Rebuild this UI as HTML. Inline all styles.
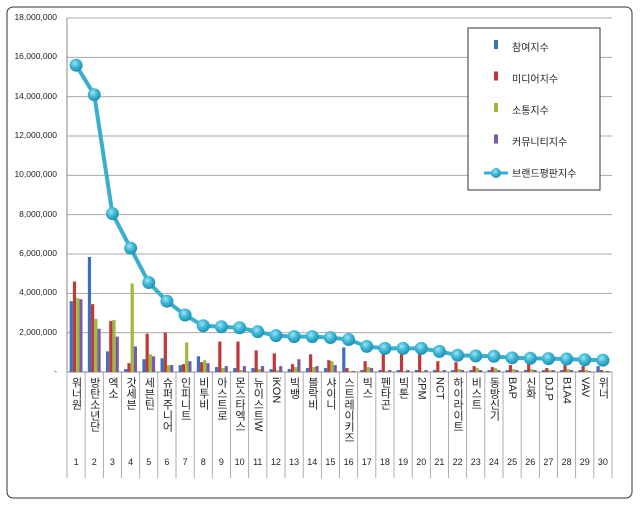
<!DOCTYPE html>
<html><head><meta charset="utf-8"><style>
body{margin:0;background:#fff;font-family:"Liberation Sans","Noto Sans CJK KR",sans-serif;}
#wrap{position:relative;width:640px;height:506px;}
.xl{position:absolute;top:377px;writing-mode:vertical-rl;font-size:11px;color:#222;line-height:12px;white-space:nowrap;}
.xn{position:absolute;top:457px;font-size:9px;color:#222;text-align:center;width:18px;}
.yl{position:absolute;right:583px;font-size:8.5px;color:#222;}
</style></head><body>
<div id="wrap">
<svg id="svg" width="640" height="506" style="position:absolute;left:0;top:0">
<rect x="7" y="7" width="625" height="491" rx="6" fill="#fff" stroke="#333" stroke-width="1"/>
</svg>
</div>
<script>
const categories=["워너원","방탄소년단","엑소","갓세븐","세븐틴","슈퍼주니어","인피니트","비투비","아스트로","몬스타엑스","뉴이스트W","iKON","빅뱅","블락비","샤이니","스트레이키즈","빅스","펜타곤","빅톤","2PM","NCT","하이라이트","비스트","동방신기","BAP","신화","DJ.P","B1A4","VAV","위너"];
const participation=[3.6,5.85,1.05,0.15,0.65,0.7,0.35,0.8,0.25,0.2,0.2,0.15,0.15,0.2,0.2,1.25,0.1,0.1,0.1,0.1,0.1,0.1,0.1,0.1,0.1,0.1,0.1,0.1,0.1,0.3];
const media=[4.6,3.45,2.6,0.45,1.95,2.0,0.4,0.5,1.55,1.55,1.1,0.95,0.4,0.9,0.6,0.2,0.55,0.95,0.95,0.9,0.55,0.5,0.3,0.25,0.35,0.4,0.2,0.35,0.3,0.1];
const communication=[3.75,2.7,2.65,4.5,0.9,0.35,1.5,0.6,0.2,0.1,0.15,0.1,0.25,0.25,0.55,0.05,0.25,0.05,0.05,0.05,0.05,0.15,0.2,0.2,0.15,0.15,0.1,0.15,0.1,0.05];
const community=[3.7,2.2,1.8,1.3,0.8,0.35,0.55,0.45,0.3,0.3,0.3,0.3,0.65,0.3,0.35,0.05,0.2,0.1,0.1,0.1,0.1,0.1,0.1,0.1,0.1,0.1,0.1,0.1,0.05,0.05];
const brand=[15.6,14.1,8.05,6.3,4.55,3.6,2.9,2.35,2.3,2.25,2.05,1.85,1.8,1.8,1.75,1.65,1.3,1.2,1.2,1.2,1.05,0.85,0.82,0.8,0.72,0.7,0.68,0.66,0.62,0.6];
const yTicks=["-","2,000,000","4,000,000","6,000,000","8,000,000","10,000,000","12,000,000","14,000,000","16,000,000","18,000,000"];
const legendLabels=["참여지수","미디어지수","소통지수","커뮤니티지수","브랜드평판지수"];
const X0=67,X1=612,Y0=372,Y1=18,YMAX=18;
const cw=(X1-X0)/categories.length;
const ys=v=>Y0-(v/YMAX)*(Y0-Y1);
const xc=i=>X0+cw*(i+0.5);
const svg=document.getElementById('svg'),wrap=document.getElementById('wrap');
const NS="http://www.w3.org/2000/svg";
function mk(t,a,p){const e=document.createElementNS(NS,t);for(const k in a)e.setAttribute(k,a[k]);(p||svg).appendChild(e);return e;}
const defs=mk('defs',{});
defs.innerHTML='<radialGradient id="dot" cx="40%" cy="35%" r="65%"><stop offset="0" stop-color="#9fe4f5"/><stop offset="0.5" stop-color="#3cb8d6"/><stop offset="1" stop-color="#1f8fae"/></radialGradient>';
yTicks.forEach((t,i)=>{const y=ys(i*2);
 if(i>0){const g=mk('line',{x1:X0,x2:X1,y1:y,y2:y,stroke:'#aaa','stroke-width':1});}
 const d=document.createElement('div');d.className='yl';d.style.top=(y-6)+'px';d.textContent=t;
 
 
 wrap.appendChild(d);});
mk('line',{x1:X0,x2:X0,y1:Y1,y2:Y0,stroke:'#888'});
mk('line',{x1:X0,x2:X1,y1:Y0,y2:Y0,stroke:'#888'});
for(let i=0;i<=categories.length;i++){const x=X0+cw*i;mk('line',{x1:x,x2:x,y1:Y0,y2:478,stroke:'#999','stroke-width':0.8});}
const series=[participation,media,communication,community];
const colors=['#3f6fbf','#c0393a','#9cbb3c','#7a5aa8'];
const bw=3.2;
series.forEach((s,si)=>{s.forEach((v,i)=>{const x=xc(i)-2*bw+si*bw;const y=ys(v);
 const r=mk('rect',{x:x,y:y,width:bw,height:Y0-y,fill:colors[si]});
 
 });});
const pts=brand.map((v,i)=>xc(i)+','+ys(v)).join(' ');
const pl=mk('polyline',{points:pts,fill:'none',stroke:'#3aaecd','stroke-width':4});


brand.forEach((v,i)=>{const c=mk('circle',{cx:xc(i),cy:ys(v),r:6.5,fill:'url(#dot)'});
 
 });
categories.forEach((c,i)=>{const d=document.createElement('div');d.className='xl';d.textContent=c;d.style.left=(xc(i)-6)+'px';
 
 
 wrap.appendChild(d);
 const n=document.createElement('div');n.className='xn';n.textContent=i+1;n.style.left=(xc(i)-9)+'px';
 
 
 wrap.appendChild(n);});
// legend
const lg=mk('rect',{x:468,y:28,width:132,height:162,fill:'#fff',stroke:'#333'});


legendLabels.forEach((l,i)=>{const y=47+i*31.5;
 if(i<4){mk('rect',{x:494,y:y-7,width:4,height:9,fill:colors[i]});}
 else{mk('line',{x1:484,x2:508,y1:y,y2:y,stroke:'#3aaecd','stroke-width':3});mk('circle',{cx:496,cy:y,r:5,fill:'url(#dot)'});}
 const t=mk('text',{x:512,y:y+4,'font-size':10,fill:'#222','font-family':'Liberation Sans, Noto Sans CJK KR, sans-serif'});t.textContent=l;
 
 });
</script>
</body></html>
